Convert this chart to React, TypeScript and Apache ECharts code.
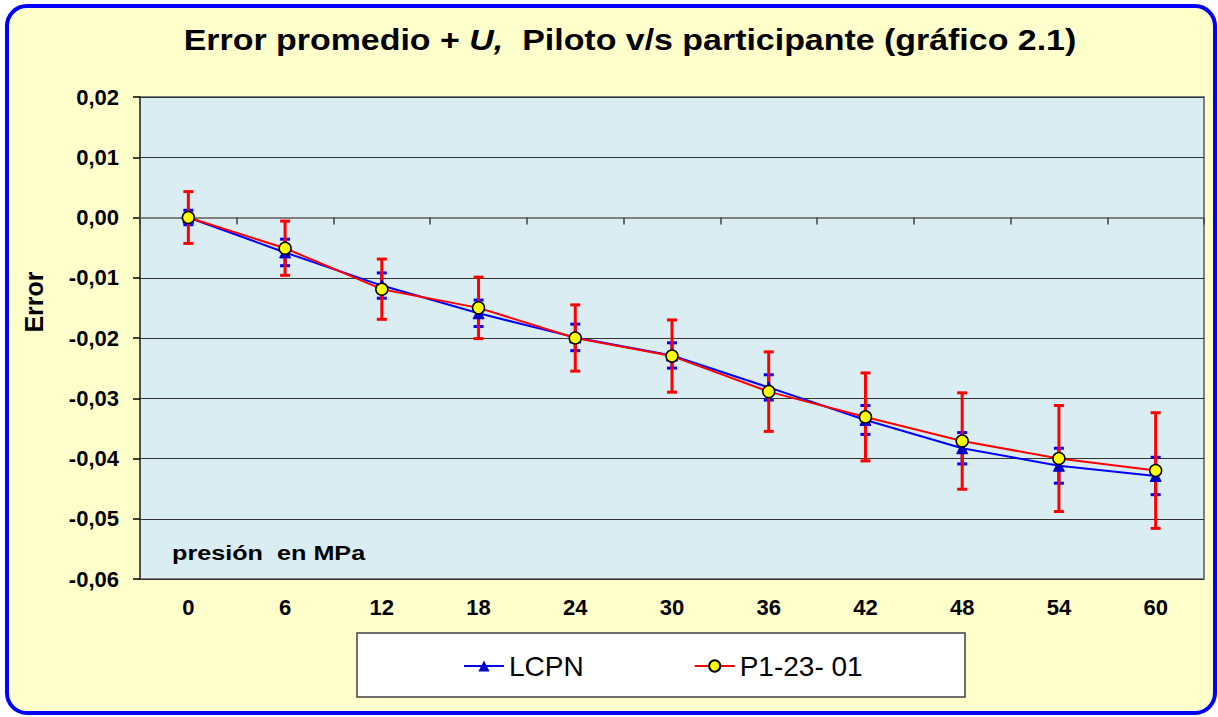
import React, { useEffect, useRef } from "react";
import * as echarts from "echarts";

const categories = ["0", "6", "12", "18", "24", "30", "36", "42", "48", "54", "60"];
const lcpnValues = [0.0, -0.0058, -0.0113, -0.0159, -0.0199, -0.0229, -0.0282, -0.0336, -0.0383, -0.0412, -0.0429];
const lcpnU = [0.0012, 0.0022, 0.0021, 0.0022, 0.0022, 0.0021, 0.0021, 0.0024, 0.0026, 0.0029, 0.0031];
const p1Values = [0.0, -0.0051, -0.0119, -0.015, -0.02, -0.023, -0.0289, -0.0331, -0.0371, -0.04, -0.042];
const p1U = [0.0043, 0.0045, 0.005, 0.0051, 0.0055, 0.006, 0.0066, 0.0073, 0.008, 0.0088, 0.0096];
const seriesNames = ["LCPN", "P1-23- 01"];

const FONT = "'Liberation Sans', Arial, Helvetica, sans-serif";

function errorData(values: number[], u: number[]) {
  return values.map((v, i) => [i, v - u[i], v + u[i]]);
}

function errorBarRenderer(color: string, capHalf: number, width: number) {
  return (params: any, api: any) => {
    const idx = api.value(0);
    const lo = api.value(1);
    const hi = api.value(2);
    const top = api.coord([idx, hi]);
    const bot = api.coord([idx, lo]);
    const style = { stroke: color, lineWidth: width };
    return {
      type: "group",
      children: [
        { type: "line", shape: { x1: top[0], y1: top[1], x2: bot[0], y2: bot[1] }, style },
        { type: "line", shape: { x1: top[0] - capHalf, y1: top[1], x2: top[0] + capHalf, y2: top[1] }, style },
        { type: "line", shape: { x1: bot[0] - capHalf, y1: bot[1], x2: bot[0] + capHalf, y2: bot[1] }, style },
      ],
    };
  };
}

export default function App() {
  const ref = useRef<HTMLDivElement>(null);

  useEffect(() => {
    if (!ref.current) return;
    const chart = echarts.init(ref.current, undefined, { renderer: "svg" });
    const option: any = {
      animation: false,
      backgroundColor: "transparent",
      textStyle: { fontFamily: FONT },
      grid: {
        left: 140,
        right: 14,
        top: 97,
        bottom: 138,
        show: true,
        backgroundColor: "#DAEDF3",
        borderColor: "#7F7F7F",
        borderWidth: 2,
      },
      legend: {
        left: 458,
        top: 647,
        itemWidth: 40,
        itemHeight: 14,
        itemGap: 110,
        data: seriesNames,
        textStyle: { fontFamily: FONT, fontSize: 28, color: "#000" },
      },
      xAxis: [
        {
          type: "category",
          position: "bottom",
          data: categories,
          boundaryGap: true,
          axisLine: { show: false, onZero: false },
          axisTick: { show: false },
          axisLabel: { fontFamily: FONT, fontSize: 22, fontWeight: "bold", color: "#000", margin: 17 },
          splitLine: { show: false },
        },
        {
          type: "category",
          position: "bottom",
          data: categories,
          boundaryGap: true,
          axisLine: { show: true, onZero: true, lineStyle: { color: "#7F7F7F", width: 2 } },
          axisTick: { show: true, length: 7, lineStyle: { color: "#404040", width: 1.5 } },
          axisLabel: { show: false },
          splitLine: { show: false },
        },
      ],
      yAxis: {
        type: "value",
        min: -0.06,
        max: 0.02,
        interval: 0.01,
        axisLine: { show: true, lineStyle: { color: "#404040", width: 1.5 } },
        axisTick: { show: true, length: 7, lineStyle: { color: "#000", width: 1.5 } },
        axisLabel: {
          fontFamily: FONT,
          fontSize: 22,
          fontWeight: "bold",
          color: "#000",
          margin: 21,
          formatter: (v: number) => (Math.abs(v) < 1e-9 ? 0 : v).toFixed(2).replace(".", ","),
        },
        splitLine: { show: true, lineStyle: { color: "#333", width: 1.2 } },
      },
      graphic: [
        {
          type: "rect",
          shape: { x: 357, y: 633, width: 608, height: 64 },
          style: { fill: "#FFFFFF", stroke: "#404040", lineWidth: 1.5 },
          z: 1,
        },
        {
          type: "text",
          x: 630,
          y: 40,
          scaleX: 1.17,
          style: {
            text: "{a|Error promedio + }{b|U,}{a|  Piloto v/s participante (gráfico 2.1)}",
            rich: {
              a: { fontFamily: FONT, fontSize: 29, fontWeight: "bold", fill: "#000" },
              b: { fontFamily: FONT, fontSize: 29, fontWeight: "bold", fontStyle: "italic", fill: "#000" },
            },
            fill: "#000",
            textAlign: "center",
            textVerticalAlign: "middle",
          },
          z: 5,
        },
        {
          type: "text",
          x: 34,
          y: 302,
          rotation: Math.PI / 2,
          style: {
            text: "Error",
            font: `bold 25px ${FONT}`,
            fill: "#000",
            textAlign: "center",
            textVerticalAlign: "middle",
          },
          z: 5,
        },
        {
          type: "text",
          x: 172,
          y: 553,
          scaleX: 1.2,
          style: {
            text: "presión  en MPa",
            font: `bold 21px ${FONT}`,
            fill: "#000",
            textAlign: "left",
            textVerticalAlign: "middle",
          },
          z: 5,
        },
      ],
      series: [
        {
          type: "custom",
          name: "LCPN-U",
          xAxisIndex: 0,
          renderItem: errorBarRenderer("#0000FF", 5, 3),
          encode: { x: 0, y: [1, 2] },
          data: errorData(lcpnValues, lcpnU),
          z: 2,
        },
        {
          type: "custom",
          name: "P1-U",
          xAxisIndex: 0,
          renderItem: errorBarRenderer("#FF0000", 5, 3),
          encode: { x: 0, y: [1, 2] },
          data: errorData(p1Values, p1U),
          z: 3,
        },
        {
          type: "line",
          name: seriesNames[0],
          xAxisIndex: 0,
          data: lcpnValues,
          symbol: "triangle",
          symbolSize: 11,
          itemStyle: { color: "#0000C8", borderColor: "#0000C8" },
          lineStyle: { color: "#0000FF", width: 2 },
          z: 4,
        },
        {
          type: "line",
          name: seriesNames[1],
          xAxisIndex: 0,
          data: p1Values,
          symbol: "circle",
          symbolSize: 12,
          itemStyle: { color: "#FFFF00", borderColor: "#000", borderWidth: 1.5 },
          lineStyle: { color: "#FF0000", width: 2 },
          z: 5,
        },
      ],
    };
    chart.setOption(option);
    return () => chart.dispose();
  }, []);

  return (
    <div style={{ position: "fixed", left: 0, top: 0, width: 1218, height: 717, background: "#FFFFFF" }}>
      <div
        style={{
          position: "absolute",
          left: 5,
          top: 4,
          width: 1212,
          height: 711,
          boxSizing: "border-box",
          border: "4px solid #0000FF",
          borderRadius: 22,
          background: "#FFFFCC",
        }}
      />
      <div ref={ref} style={{ position: "absolute", left: 0, top: 0, width: 1218, height: 717 }} />
    </div>
  );
}
